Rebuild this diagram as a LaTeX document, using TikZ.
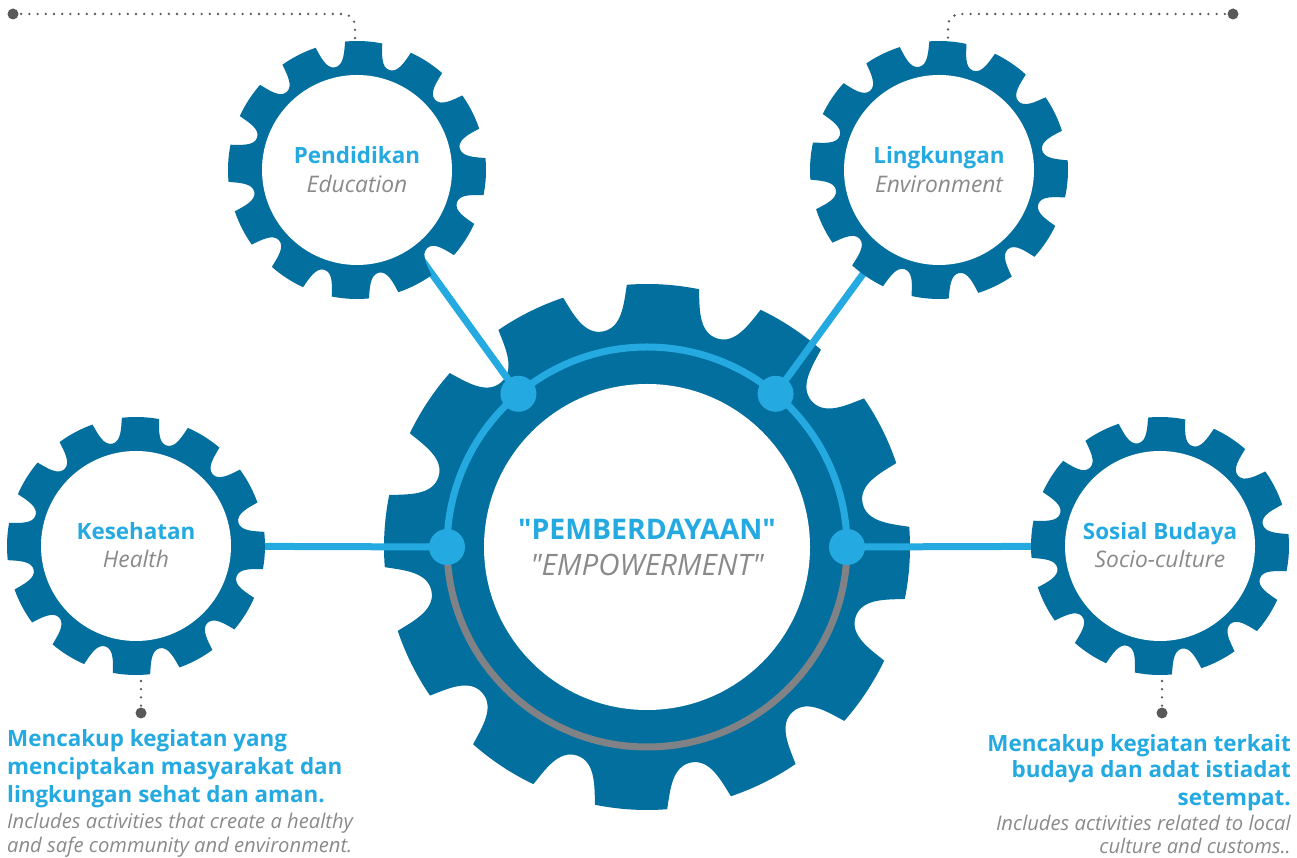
\documentclass[tikz,border=0pt]{standalone}
\usepackage{fontspec}
\setmainfont{Open Sans}
\newfontfamily\qfont{Open Sans}
\definecolor{gearblue}{RGB}{2,111,158}
\definecolor{cyanblue}{RGB}{36,170,225}
\definecolor{ringgray}{RGB}{128,130,133}
\definecolor{dotgray}{RGB}{88,89,91}
\definecolor{textgray}{RGB}{138,138,140}
\tikzset{
  pics/gear/.style n args={5}{code={%
    \pgfmathsetmacro\gw{#1*sin(#3)}
    \pgfmathsetmacro\gaone{atan2(-0.8*\gw,#1-0.45*#2)}
    \pgfmathsetmacro\grone{veclen(#1-0.45*#2,0.8*\gw)}
    \pgfmathsetmacro\gatwo{atan2(-0.6*\gw,#1-#2)}
    \pgfmathsetmacro\grtwo{veclen(#1-#2,0.6*\gw)}
    \pgfmathsetmacro\grb{#1-#2}
    \fill[gearblue] ({#4-#3}:#1)
      \foreach \k in {0,...,11}{
        .. controls ({#4+30*\k+\gaone}:\grone) and ({#4+30*\k+\gatwo}:\grtwo) .. ({#4+30*\k}:\grb)
        .. controls ({#4+30*\k-\gatwo}:\grtwo) and ({#4+30*\k-\gaone}:\grone) .. ({#4+30*\k+#3}:#1)
        arc[start angle={#4+30*\k+#3}, end angle={#4+30*\k+30-#3}, radius=#1]
      } -- cycle;
    \fill[white] (0,0) circle[radius=#5];
  }}
}
\begin{document}
\begin{tikzpicture}[x=1pt,y=1pt,
  hub/.style={circle, inner sep=0pt, minimum size=4pt},
  conn/.style={draw=cyanblue, line width=7pt},
  leader/.style={draw=dotgray, line width=2.6pt, line cap=round, dash pattern=on 0pt off 8.2pt},
  bigdot/.style={circle, fill=dotgray, inner sep=0pt, minimum size=11pt},
  joint/.style={circle, fill=cyanblue, inner sep=0pt, minimum size=36pt},
  head/.style={text=cyanblue, font=\fontsize{22.4}{26}\selectfont\bfseries, inner sep=0pt},
  sub/.style={text=textgray, font=\fontsize{22.8}{26}\selectfont\itshape, inner sep=0pt},
  bighead/.style={text=cyanblue, font=\qfont\fontsize{28.4}{32}\selectfont\bfseries, inner sep=0pt},
  bigsub/.style={text=textgray, font=\qfont\fontsize{29.5}{32}\selectfont\itshape, inner sep=0pt},
  desc/.style={text=cyanblue, font=\fontsize{22.4}{26}\selectfont\bfseries, inner sep=0pt},
  descsub/.style={text=textgray, font=\fontsize{20.2}{24}\selectfont\itshape, inner sep=0pt},
]
\useasboundingbox (0,0) rectangle (1297,858);

% hubs
\node[hub] (cen) at (647,311) {};
\node[hub] (pend) at (357,688) {};
\node[hub] (ling) at (939,688) {};
\node[hub] (kes) at (136,312) {};
\node[hub] (sos) at (1160,312) {};

\coordinate (jtl) at ([shift={(130:200)}]cen);
\coordinate (jtr) at ([shift={(50:200)}]cen);
\coordinate (jl) at ([shift={(180:200)}]cen);
\coordinate (jr) at ([shift={(0:200)}]cen);

% central gear
\pic at (cen) {gear={263}{43}{7.1}{11.5}{163}};

% connectors
\draw[conn] (pend.center) -- (jtl);
\draw[conn] (ling.center) -- (jtr);
\draw[conn] (kes.center) -- (jl);
\draw[conn] (sos.center) -- (jr);

% small gears
\pic at (pend) {gear={129}{24}{6.7}{12}{95}};
\pic at (ling) {gear={129}{24}{6.7}{11}{95}};
\pic at (kes) {gear={129}{24}{6.7}{13}{95}};
\pic at (sos) {gear={129}{24}{6.7}{12}{95}};

% ring
\draw[cyanblue, line width=7pt] (jr) arc[start angle=0, end angle=180, radius=200];
\draw[ringgray, line width=7pt] (jl) arc[start angle=180, end angle=360, radius=200];
\node[joint] (Jtl) at (jtl) {};
\node[joint] (Jtr) at (jtr) {};
\node[joint] (Jl) at (jl) {};
\node[joint] (Jr) at (jr) {};

% leaders
\node[bigdot] (dtl) at (13,844) {};
\coordinate (etl) at (355,819);
\draw[leader, rounded corners=12pt] (dtl.center) -- (355,844) -- (etl);
\node[bigdot] (dtr) at (1233,844) {};
\coordinate (etr) at (948,819);
\draw[leader, rounded corners=12pt] (dtr.center) -- (948,844) -- (etr);
\coordinate (ebl) at (141,177);
\node[bigdot] (dbl) at (141,145) {};
\draw[leader] (ebl) -- (dbl.center);
\coordinate (ebr) at (1162,177);
\node[bigdot] (dbr) at (1162,145) {};
\draw[leader] (ebr) -- (dbr.center);

% gear labels
\node[head, anchor=base] (pendT) at ([yshift=6pt]pend) {Pendidikan};
\node[sub, anchor=base] (pendS) at ([yshift=-23pt]pend) {Education};
\node[head, anchor=base] (lingT) at ([yshift=6pt]ling) {Lingkungan};
\node[sub, anchor=base] (lingS) at ([yshift=-23pt]ling) {Environment};
\node[head, anchor=base] (kesT) at ([yshift=6pt]kes) {Kesehatan};
\node[sub, anchor=base] (kesS) at ([yshift=-22pt]kes) {Health};
\node[head, anchor=base] (sosT) at ([yshift=6pt]sos) {Sosial Budaya};
\node[sub, anchor=base] (sosS) at ([yshift=-22pt]sos) {Socio-culture};
\node[bighead, anchor=base] (cenT) at ([yshift=7pt]cen) {"PEMBERDAYAAN"};
\node[bigsub, anchor=base] (cenS) at ([yshift=-29pt]cen) {"EMPOWERMENT"};

% left description
\node[desc, anchor=base west] (l1) at (7,111.3) {Mencakup kegiatan yang};
\node[desc, anchor=base west] (l2) at (7,83) {menciptakan masyarakat dan};
\node[desc, anchor=base west] (l3) at (7,55) {lingkungan sehat dan aman.};
\node[descsub, anchor=base west] (l4) at (7,29.5) {Includes activities that create a healthy};
\node[descsub, anchor=base west] (l5) at (7,5) {and safe community and environment.};

% right description
\node[desc, anchor=base east] (r1) at (1291,106.3) {Mencakup kegiatan terkait};
\node[desc, anchor=base east] (r2) at (1291,80) {budaya dan adat istiadat};
\node[desc, anchor=base east] (r3) at (1291,52) {setempat.};
\node[descsub, anchor=base east] (r4) at (1291,27) {Includes activities related to local};
\node[descsub, anchor=base east] (r5) at (1291,4) {culture and customs..};
\end{tikzpicture}
\end{document}
